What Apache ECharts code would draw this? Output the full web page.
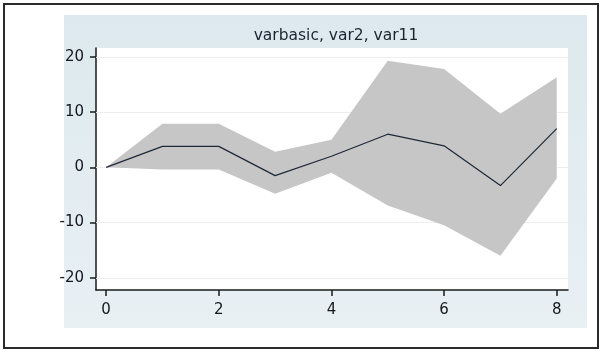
<!DOCTYPE html>
<html>
<head>
<meta charset="utf-8">
<script src="https://cdn.jsdelivr.net/npm/echarts@6/dist/echarts.min.js"></script>
<style>
html,body{margin:0;padding:0;background:#fff;}
#c{width:602px;height:352px;}
</style>
</head>
<body>
<div id="c"></div>
<script>
const steps = [0, 1, 2, 3, 4, 5, 6, 7, 8];
const irf   = [0, 3.8, 3.8, -1.5, 2.0, 6.0, 3.9, -3.3, 7.0];
const upper = [0, 7.9, 7.9, 2.8, 5.0, 19.3, 17.8, 9.7, 16.3];
const lower = [0, -0.4, -0.4, -4.8, -1.0, -6.9, -10.5, -16.0, -2.0];
const xTicks = [0, 2, 4, 6, 8];
const yTicks = [-20, -10, 0, 10, 20];
const title = 'varbasic, var2, var11';

const chart = echarts.init(document.getElementById('c'), null, {renderer: 'canvas'});
const irfPts = steps.map((s, i) => [s, irf[i]]);
const bandRows = steps.map((s, i) => [s, lower[i], upper[i]]);
const FONT = 'DejaVu Sans, Liberation Sans, Arial';

chart.setOption({
  animation: false,
  backgroundColor: '#ffffff',
  title: {
    text: title, left: 331, top: 23, textAlign: 'center',
    textStyle: {fontFamily: FONT, fontSize: 15.5, fontWeight: 'normal', color: '#1c2430'}
  },
  graphic: [
    {type: 'rect', z: -10, shape: {x: 4, y: 4, width: 594, height: 344},
     style: {fill: '#ffffff', stroke: '#2a2a2a', lineWidth: 2}},
    {type: 'rect', z: -9, shape: {x: 64, y: 15, width: 523, height: 313},
     style: {fill: {type: 'linear', x: 0, y: 0, x2: 0, y2: 1, colorStops: [
       {offset: 0, color: '#dde9ee'}, {offset: 1, color: '#e8f0f4'}]}}}
  ],
  grid: {left: 96, top: 48, width: 472, height: 242, show: true, backgroundColor: '#ffffff', borderWidth: 0},
  xAxis: {
    type: 'value', min: -0.18, max: 8.2,
    axisLine: {show: true, onZero: false, lineStyle: {color: '#1a1a1a', width: 1.5}},
    axisTick: {show: true, length: 6, customValues: xTicks, lineStyle: {color: '#1a1a1a', width: 1.5}},
    axisLabel: {customValues: xTicks, margin: 13, fontFamily: FONT, fontSize: 15, color: '#15181c'},
    splitLine: {show: false}
  },
  yAxis: {
    type: 'value', min: -22.2, max: 21.6,
    axisLine: {show: true, onZero: false, lineStyle: {color: '#1a1a1a', width: 1.5}},
    axisTick: {show: true, length: 6, customValues: yTicks, lineStyle: {color: '#1a1a1a', width: 1.5}},
    axisLabel: {customValues: yTicks, margin: 12, fontFamily: FONT, fontSize: 15, color: '#15181c'},
    splitLine: {show: false}
  },
  series: [
    {
      type: 'custom', z: 3, silent: true,
      data: bandRows,
      encode: {x: 0, y: [1, 2]},
      renderItem: function (params, api) {
        if (params.dataIndex !== 0) return null;
        const top = bandRows.map(r => api.coord([r[0], r[2]]));
        const bot = bandRows.map(r => api.coord([r[0], r[1]])).reverse();
        return {type: 'polygon', shape: {points: top.concat(bot)},
                style: {fill: '#c6c6c6', stroke: 'none'}};
      },
      markLine: {
        silent: true, symbol: 'none', label: {show: false}, z: 1,
        lineStyle: {color: '#eeeeee', width: 1, type: 'solid'},
        data: yTicks.map(v => ({yAxis: v}))
      }
    },
    {
      type: 'line', data: irfPts, symbol: 'none', z: 5,
      lineStyle: {color: '#1d2838', width: 1.2}
    }
  ]
});
</script>
</body>
</html>
